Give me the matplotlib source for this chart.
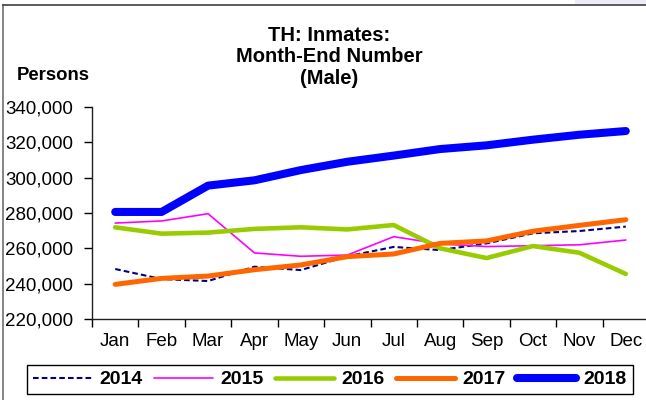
import matplotlib
matplotlib.use("Agg")
import matplotlib.pyplot as plt
from matplotlib.lines import Line2D
from matplotlib.patches import Rectangle
from matplotlib.ticker import FuncFormatter, FixedLocator

plt.rcParams['font.family'] = ['Liberation Sans', 'DejaVu Sans']

months = ['Jan', 'Feb', 'Mar', 'Apr', 'May', 'Jun',
          'Jul', 'Aug', 'Sep', 'Oct', 'Nov', 'Dec']

y2014 = [248300, 242600, 241500, 249600, 247700, 255500,
         260800, 259000, 262800, 268500, 269800, 272300]
y2015 = [274300, 275500, 279600, 257400, 255500, 256200,
         266600, 262500, 261000, 261500, 262000, 264700]
y2016 = [271900, 268300, 268900, 271000, 271900, 270700,
         273200, 260000, 254500, 261300, 257500, 245500]
y2017 = [239600, 243000, 244300, 247900, 250600, 255300,
         256800, 262800, 264200, 269700, 273000, 276200]
y2018 = [280600, 280600, 295500, 298500, 304300, 309000,
         312500, 316200, 318300, 321500, 324300, 326400]

years = ['2014', '2015', '2016', '2017', '2018']
series = [y2014, y2015, y2016, y2017, y2018]
colors = ['#000080', '#FF00FF', '#99CC00', '#FF6600', '#0000FF']
widths = [1.5, 1.2, 3.3, 3.6, 5.8]

W, H = 646, 400
fig = plt.figure(figsize=(W / 100, H / 100), dpi=100)
fig.patch.set_facecolor('white')

# faint tab in the top-right corner and outer frame
fig.add_artist(Rectangle((575 / W, 1 - 5 / H), 71 / W, 5 / H,
                         transform=fig.transFigure, color='#ececf7', lw=0))
fig.add_artist(Line2D([3 / W, 3 / W], [0, 1 - 5 / H],
                      transform=fig.transFigure, color='#707070', lw=1.2))
fig.add_artist(Line2D([3 / W, 1], [1 - 5 / H, 1 - 5 / H],
                      transform=fig.transFigure, color='#404040', lw=1.2))

ax = fig.add_axes([92 / W, 1 - 319 / H, 557 / W, 212 / H])
x = list(range(len(months)))

handles = []
for yr, vals, c, lw in zip(years, series, colors, widths):
    if yr == '2014':
        ln, = ax.plot(x, vals, color=c, lw=lw, dashes=(2.7, 1.5),
                      solid_capstyle='round', label=yr)
    else:
        ln, = ax.plot(x, vals, color=c, lw=lw, solid_capstyle='round',
                      label=yr)
    handles.append(ln)

ax.set_xlim(-0.5, 11.5)
ax.set_ylim(220000, 340000)
ax.set_yticks(range(220000, 340001, 20000))
ax.yaxis.set_major_formatter(FuncFormatter(lambda v, p: f'{int(v):,}'))

ax.xaxis.set_major_locator(FixedLocator([i - 0.5 for i in range(13)]))
ax.xaxis.set_minor_locator(FixedLocator(x))
ax.set_xticklabels([], minor=False)
ax.set_xticklabels(months, minor=True)
ax.tick_params(axis='x', which='major', direction='out', length=6, width=1)
ax.tick_params(axis='x', which='minor', length=0, pad=10, labelsize=13.5)
ax.tick_params(axis='y', direction='out', length=6, width=1, pad=7.5,
               labelsize=13.5)

for s in ['top', 'right']:
    ax.spines[s].set_visible(False)
for s in ['left', 'bottom']:
    ax.spines[s].set_color('#202020')
    ax.spines[s].set_linewidth(1)

fig.text(329 / W, 1 - 57 / H, 'TH: Inmates:\nMonth-End Number\n(Male)',
         ha='center', va='center', fontsize=14.5, fontweight='bold',
         linespacing=1.17)
fig.text(53 / W, 1 - 76 / H, 'Persons', ha='center', va='center',
         fontsize=13.3, fontweight='bold')

leg = fig.legend(handles=handles, loc='center', ncol=5,
                 bbox_to_anchor=(330 / W, 1 - 379.5 / H),
                 prop={'weight': 'bold', 'size': 14},
                 handlelength=3.0, handletextpad=0.4, columnspacing=0.6,
                 fancybox=False, edgecolor='black', borderpad=0.3,
                 framealpha=1)
leg.get_frame().set_linewidth(1)

fig.savefig('out.png', dpi=100)
